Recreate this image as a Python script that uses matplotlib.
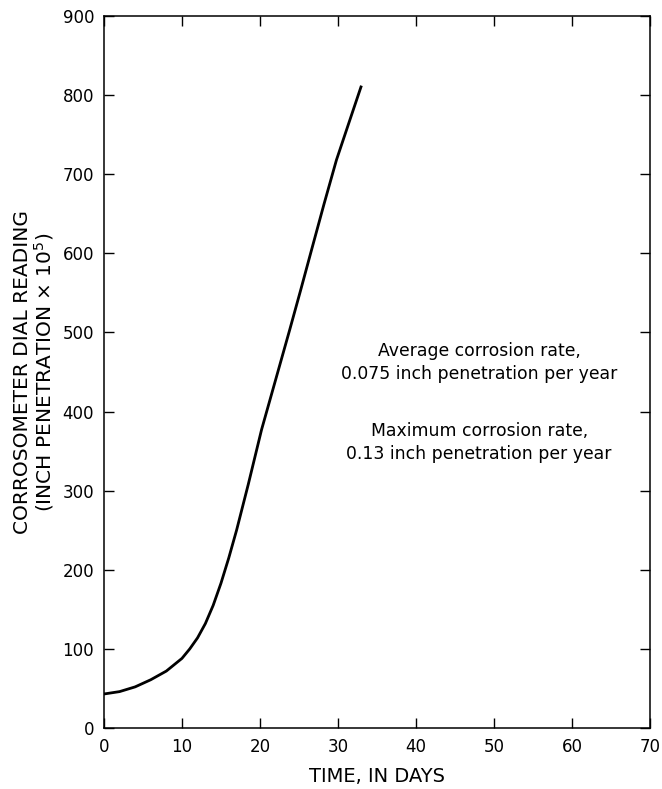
import matplotlib
matplotlib.use("Agg")
import matplotlib.pyplot as plt

plt.rcParams['font.family'] = ['DejaVu Sans']

# Corrosometer dial reading versus exposure time
days = [0, 2, 4, 6, 8, 10, 11, 12, 13, 14, 15, 16, 17, 18.5, 20.2, 22, 23.8,
        25.2, 26.6, 28.2, 29.8, 31.5, 33.0]
reading = [43, 46, 52, 61, 72, 88, 100, 114, 132, 155, 183, 215, 250, 308, 377,
           440, 503, 553, 604, 662, 718, 768, 812]

x_ticks = [0, 10, 20, 30, 40, 50, 60, 70]
y_ticks = [0, 100, 200, 300, 400, 500, 600, 700, 800, 900]

notes = ["Average corrosion rate,\n0.075 inch penetration per year",
         "Maximum corrosion rate,\n0.13 inch penetration per year"]

fig = plt.figure(figsize=(6.62, 7.89), dpi=100)
ax = fig.add_axes([0.157, 0.0773, 0.825, 0.9024])

ax.plot(days, reading, color='black', lw=2.0, solid_capstyle='butt',
        solid_joinstyle='round')

ax.set_xlim(0, 70)
ax.set_ylim(0, 900)
ax.set_xticks(x_ticks)
ax.set_yticks(y_ticks)
ax.tick_params(direction='in', length=7, width=1.0, top=True, right=True,
               labelsize=12, pad=7)
for s in ax.spines.values():
    s.set_linewidth(1.1)

ax.set_xlabel("TIME, IN DAYS", fontsize=14, labelpad=8)
ax.set_ylabel("CORROSOMETER DIAL READING\n(INCH PENETRATION \u00d7 10$^5$)",
              fontsize=14.5, labelpad=5, linespacing=1.0)

ax.text(48.1, 462, notes[0], ha='center', va='center', fontsize=12.4, linespacing=1.4)
ax.text(48.1, 361, notes[1], ha='center', va='center', fontsize=12.4, linespacing=1.4)

fig.savefig("out.png", dpi=100)
